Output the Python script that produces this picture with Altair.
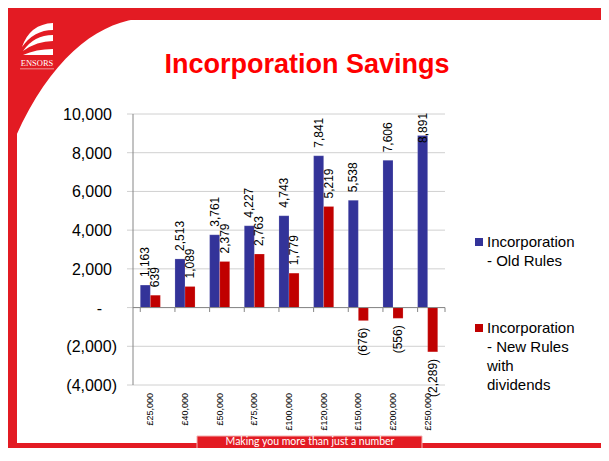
import altair as alt
import pandas as pd

# ---------------- data ----------------
categories = ["£25,000", "£40,000", "£50,000", "£75,000", "£100,000",
              "£120,000", "£150,000", "£200,000", "£250,000"]
old_rules = [1163, 2513, 3761, 4227, 4743, 7841, 5538, 7606, 8891]
new_rules = [639, 1089, 2379, 2763, 1779, 5219, -676, -556, -2289]
series = ["Incorporation - Old Rules", "Incorporation - New Rules with dividends"]
legend_lines = ["Incorporation\n- Old Rules", "Incorporation\n- New Rules\nwith\ndividends"]
colors = ["#333399", "#C00000"]
y_ticks = [-4000, -2000, 0, 2000, 4000, 6000, 8000, 10000]
title_text = "Incorporation Savings"
footer_text = "Making you more than just a number"
logo_text = "ENSORS"

rows = []
for i, c in enumerate(categories):
    rows.append({"cat": c, "series": series[0], "v": old_rules[i]})
    rows.append({"cat": c, "series": series[1], "v": new_rules[i]})
df = pd.DataFrame(rows)
cats_df = pd.DataFrame({"cat": categories})
ticks_df = pd.DataFrame({"t": y_ticks})
deco = pd.DataFrame({"k": [0]})

# ---------------- layout ----------------
W, H = 312, 271
OX, OY = 133, 114          # page position of plot area


def px(x):
    return x - OX


def py(y):
    return y - OY


RED = "#E31B23"
GRID = "#D0D0D0"
AXIS = "#868686"
FONT = "Liberation Sans"

yscale = alt.Scale(domain=[-4000, 10000], nice=False, zero=False)
xscale = alt.Scale(domain=categories, paddingInner=0.42, paddingOuter=0.21)

y_axis = alt.Axis(values=y_ticks, title=None, grid=False, labels=False,
                  ticks=False, domain=False)
x_axis = alt.Axis(title=None, labels=False, domain=False, ticks=False, grid=False)

x_enc = alt.X("cat:N", sort=categories, scale=xscale, axis=x_axis)
xo_enc = alt.XOffset("series:N", sort=series, scale=alt.Scale(domain=series))
col_enc = alt.Color("series:N", scale=alt.Scale(domain=series, range=colors), legend=None)

base = alt.Chart(df)
tbase = alt.Chart(ticks_df)

# horizontal gridlines and y ticks from the tick list
grid = tbase.mark_rule(color=GRID, strokeWidth=1).encode(
    y=alt.Y("t:Q", scale=yscale, axis=y_axis), x=alt.value(-6), x2=alt.value(W)
)
y_domain = alt.Chart(deco).mark_rule(color=AXIS, strokeWidth=1).encode(
    x=alt.value(0), y=alt.value(0), y2=alt.value(H)
)
ylab_pos = tbase.transform_filter("datum.t > 0").transform_calculate(
    lab="format(datum.t, ',')").mark_text(
    align="right", baseline="middle", font=FONT, fontSize=16, color="black", dy=1
).encode(y=alt.Y("t:Q", scale=yscale, axis=y_axis), x=alt.value(px(112)), text="lab:N")
ylab_neg = tbase.transform_filter("datum.t < 0").transform_calculate(
    lab="'(' + format(-datum.t, ',') + ')'").mark_text(
    align="right", baseline="middle", font=FONT, fontSize=16, color="black", dy=1
).encode(y=alt.Y("t:Q", scale=yscale, axis=y_axis), x=alt.value(px(117)), text="lab:N")
ylab_zero = tbase.transform_filter("datum.t == 0").transform_calculate(
    lab="'-'").mark_text(
    align="right", baseline="middle", font=FONT, fontSize=16, color="black", dy=1
).encode(y=alt.Y("t:Q", scale=yscale, axis=y_axis), x=alt.value(px(102)), text="lab:N")

bars = base.mark_bar(stroke="#ffffff", strokeWidth=0.3, strokeOpacity=0.6).encode(
    x=x_enc, xOffset=xo_enc,
    y=alt.Y("v:Q", scale=yscale, axis=y_axis),
    color=col_enc,
)

labels_pos = base.transform_filter("datum.v >= 0").transform_calculate(
    ly="min(datum.v, 8090)", label="format(datum.v, ',')"
).mark_text(angle=270, align="left", baseline="middle", dx=8, font=FONT,
            fontSize=12, color="black").encode(
    x=x_enc, xOffset=xo_enc,
    y=alt.Y("ly:Q", scale=yscale, axis=y_axis),
    text="label:N",
)

labels_neg = base.transform_filter("datum.v < 0").transform_calculate(
    label="'(' + format(-datum.v, ',') + ')'"
).mark_text(angle=270, align="right", baseline="middle", dx=-7, font=FONT,
            fontSize=12, color="black").encode(
    x=x_enc, xOffset=xo_enc,
    y=alt.Y("v:Q", scale=yscale, axis=y_axis),
    text="label:N",
)

xlabels = alt.Chart(cats_df).mark_text(
    angle=270, align="right", baseline="middle", font=FONT, fontSize=9, color="black"
).encode(
    x=alt.X("cat:N", sort=categories, scale=xscale, axis=x_axis),
    y=alt.value(py(393)), text="cat:N",
)

zero_rule = alt.Chart(deco).mark_rule(color=AXIS, strokeWidth=1).encode(
    y=alt.datum(0), x=alt.value(0), x2=alt.value(W)
)
band_ticks = alt.Chart(cats_df).mark_rule(color=AXIS, strokeWidth=1).encode(
    x=alt.X("cat:N", sort=categories, scale=xscale, axis=x_axis, bandPosition=0),
    y=alt.datum(0), y2=alt.value(py(312)),
)
end_tick = alt.Chart(deco).mark_rule(color=AXIS, strokeWidth=1).encode(
    x=alt.value(W), y=alt.datum(0), y2=alt.value(py(312)),
)


# ---------------- decorations ----------------
def rect(x1, x2, y1, y2, color=RED, **kw):
    return alt.Chart(deco).mark_rect(color=color, **kw).encode(
        x=alt.value(px(x1)), x2=alt.value(px(x2)),
        y=alt.value(py(y1)), y2=alt.value(py(y2)),
    )


def shape(path, color):
    # size 4 -> path units equal pixels; anchored at page origin
    return alt.Chart(deco).mark_point(
        filled=True, opacity=1, size=4, shape=path, color=color, strokeWidth=0
    ).encode(x=alt.value(px(0)), y=alt.value(py(0)))


def text(s, x, y, **kw):
    return alt.Chart(deco).mark_text(text=s, **kw).encode(
        x=alt.value(px(x)), y=alt.value(py(y))
    )


top_band = rect(0, 620, 0, 20)
left_band = rect(0, 17, 0, 470)
bottom_band = rect(0, 620, 443, 470)
corner = shape("M16,19 L136,19 C95,25 50,60 16,136 Z", RED)

logo = [
    shape("M22,47 Q30,24 53,23 L53,30 Q34,30 22,47 Z", "white"),
    shape("M23,51 Q34,35 53,35 L53,41 Q37,41 23,51 Z", "white"),
    shape("M23,55 Q36,49 53,49 L53,55 Z", "white"),
    text(logo_text, 37, 66, font="Liberation Serif", fontSize=8.5, color="white",
         align="center", baseline="alphabetic"),
    rect(20, 54, 68.5, 69.3, color="#F4C0C0"),
]

title = text(title_text, 307, 73, font=FONT, fontSize=27, fontWeight="bold",
             color="#FF0000", align="center", baseline="alphabetic")

legend = []
leg_pos = [(242, 247), (328, 333)]
for i in range(len(series)):
    sy, ty = leg_pos[i]
    legend.append(
        alt.Chart(deco).mark_point(shape="square", filled=True, opacity=1, size=64,
                                   color=colors[i]).encode(
            x=alt.value(px(479)), y=alt.value(py(sy)))
    )
    legend.append(
        text(legend_lines[i], 487, ty, font=FONT, fontSize=15, color="black",
             align="left", baseline="alphabetic", lineBreak="\n", lineHeight=19)
    )

footer_box = rect(197, 422, 436, 452, stroke="#F3B0B0", strokeWidth=1)
footer = text(footer_text, 310, 442, font="Lato", fontSize=10.5, color="white",
              align="center", baseline="middle")

chart = alt.layer(
    top_band, left_band, bottom_band, corner, *logo, title,
    grid, y_domain, ylab_pos, ylab_neg, ylab_zero,
    bars, zero_rule, band_ticks, end_tick, labels_pos, labels_neg, xlabels,
    *legend, footer_box, footer,
).properties(
    width=W, height=H,
    autosize=alt.AutoSizeParams(type="none"),
    padding={"left": 125, "top": 106, "right": 156, "bottom": 63},
    background="white",
).configure_view(stroke=None)

chart.save("out.html", embed_options={"renderer": "svg", "actions": False})
